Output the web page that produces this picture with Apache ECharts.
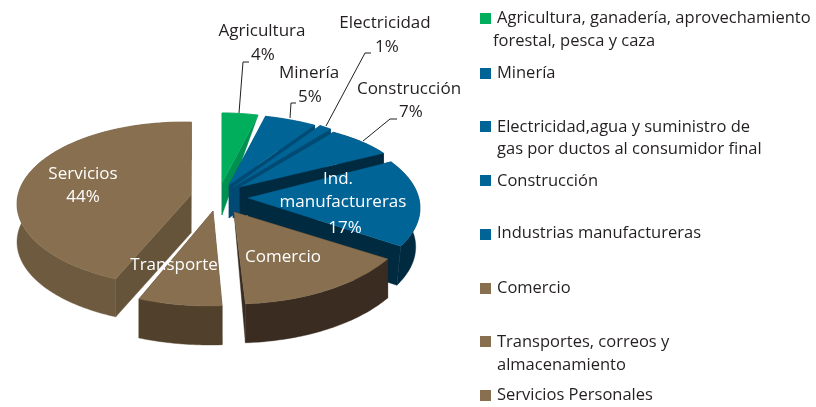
<!DOCTYPE html>
<html>
<head>
<meta charset="utf-8">
<style>html,body{margin:0;padding:0;background:#fff}#main{width:816px;height:407px}</style>
<script src="https://cdn.jsdelivr.net/npm/echarts@6/dist/echarts.min.js"></script>
</head>
<body>
<div id="main"></div>
<script>
// valores (comercio y transporte no traen porcentaje, son estimados)
var categories = ['Agricultura', 'Minería', 'Electricidad', 'Construcción', 'Ind. manufactureras', 'Comercio', 'Transporte', 'Servicios'];
var values = [4, 5, 1, 7, 17, 15, 7, 44];
var legendNames = [
    ['Agricultura, ganadería, aprovechamiento', 'forestal, pesca y caza'],
    ['Minería'],
    ['Electricidad,agua y suministro de', 'gas por ductos al consumidor final'],
    ['Construcción'],
    ['Industrias manufactureras'],
    ['Comercio'],
    ['Transportes, correos y', 'almacenamiento'],
    ['Servicios Personales']
];

var GREEN = '#00ae5b', BLUE = '#006496', BROWN = '#876f4f';

// forma de cada rebanada: elipse propia porque el dibujo original esta deformado a mano
// cx,cy,a,b elipse; ax,ay vertice; turn giro en grados; depth canto; inner caida del vertice; foot ancho del borde inferior
var shapes = [
    {cx: 222, cy: 181, a: 145, b: 68, ax: 222, ay: 183, turn: 0, depth: 0, inner: 32, foot: 1, top: GREEN, rim: '#009150', wall: '#009150'},
    {cx: 223, cy: 186, a: 171, b: 72, ax: 229, ay: 185, turn: 0, depth: 33, inner: 33, foot: 1, top: BLUE, rim: '#004a73', wall: '#004a73'},
    {cx: 213, cy: 210, a: 200, b: 100, ax: 233, ay: 187, turn: 0, depth: 33, inner: 31, foot: 1, top: BLUE, rim: '#004a73', wall: '#004a73'},
    {cx: 231, cy: 184, a: 174, b: 64, ax: 240, ay: 187, turn: 0, depth: 30, inner: 30, foot: 1, top: BLUE, rim: '#002a40', wall: '#002a40'},
    {cx: 248, cy: 208, a: 172, b: 83, ax: 248, ay: 198, turn: -5, depth: 39, inner: 39, foot: 0.975, top: BLUE, rim: '#002a40', wall: '#002a40'},
    {cx: 234, cy: 207, a: 182, b: 97, ax: 234, ay: 212, turn: 0, depth: 39, inner: 0, foot: 1, top: BROWN, rim: '#3a2c20', wall: '#3a2c20'},
    {cx: 210, cy: 206, a: 193, b: 100, ax: 213, ay: 211, turn: 0, depth: 39, inner: 0, foot: 1, top: BROWN, rim: '#50402c', wall: '#50402c'},
    {cx: 184, cy: 204, a: 167, b: 82, ax: 191, ay: 195, turn: 2.5, depth: 38, inner: 38, foot: 1, top: BROWN, rim: '#6e5a3e', wall: '#65533a'}
];
var drawOrder = [0, 1, 2, 3, 4, 7, 6, 5];

var total = values.reduce(function (s, v) { return s + v; }, 0);
var starts = [];
values.reduce(function (s, v, i) { starts[i] = s; return s + v; }, 0);

function rimPoint(sh, deg, down) {
    var t = (deg + sh.turn) * Math.PI / 180;
    var wide = down ? sh.a * sh.foot : sh.a;
    return [sh.cx + wide * Math.sin(t), sh.cy - sh.b * Math.cos(t) + down];
}

function renderSlice(params, api) {
    var idx = api.value(0), sh = shapes[idx];
    var from = api.value(1) / total * 360, to = (api.value(1) + api.value(2)) / total * 360;
    var steps = Math.max(4, Math.ceil(to - from)), arc = [], low = [], i;
    for (i = 0; i <= steps; i++) {
        var deg = from + (to - from) * i / steps;
        arc.push(rimPoint(sh, deg, 0));
        low.unshift(rimPoint(sh, deg, sh.depth));
    }
    var apex = [sh.ax, sh.ay], apexLow = [sh.ax, sh.ay + sh.inner];
    var first = rimPoint(sh, from, 0), firstLow = rimPoint(sh, from, sh.depth);
    var last = rimPoint(sh, to, 0), lastLow = rimPoint(sh, to, sh.depth);
    var children = [];
    function poly(points, color) {
        children.push({type: 'polygon', shape: {points: points}, style: {fill: color, stroke: color, lineWidth: 0.4}, silent: true});
    }
    // paredes radiales y canto, luego la cara superior encima
    poly([last, apex, apexLow, lastLow], sh.wall);
    poly([first, apex, apexLow, firstLow], sh.wall);
    poly(arc.concat(low), sh.rim);
    poly([apex].concat(arc), sh.top);
    return {type: 'group', children: children};
}

var sliceData = drawOrder.map(function (i) {
    return {name: categories[i], value: [i, starts[i], values[i]]};
});

function label(text, x, y, color) {
    return {
        type: 'text', x: x, y: y, z: 10, silent: true,
        style: {text: text, fill: color, font: '400 17px "Open Sans"', textAlign: 'center', textVerticalAlign: 'middle'}
    };
}
function leader(points) {
    return {type: 'polyline', z: 9, silent: true, shape: {points: points}, style: {stroke: '#231f20', lineWidth: 1, fill: null}};
}

var DARK = '#231f20', WHITE = '#ffffff';
var graphics = [
    leader([[239, 113], [243, 62], [249, 62]]),
    leader([[290, 118], [291, 103], [296, 103]]),
    leader([[326, 126], [365, 53], [371, 53]]),
    leader([[363, 141], [390, 119], [397, 119]]),
    label('Agricultura', 262, 31, DARK),
    label(values[0] + '%', 263, 55, DARK),
    label('Electricidad', 385, 23, DARK),
    label(values[2] + '%', 387, 47, DARK),
    label('Minería', 309, 73, DARK),
    label(values[1] + '%', 310, 97, DARK),
    label('Construcción', 409, 89, DARK),
    label(values[3] + '%', 411, 112, DARK),
    label('Servicios', 83, 174, WHITE),
    label(values[7] + '%', 83, 197, WHITE),
    label('Ind.', 338, 179, WHITE),
    label('manufactureras', 343, 202, WHITE),
    label(values[4] + '%', 345, 228, WHITE),
    label('Comercio', 283, 257, WHITE),
    label('Transporte', 174, 265, WHITE)
];

// leyenda: posiciones irregulares como en el original
var legendY = [18, 73, 127, 181, 233, 288, 342, 395];
var squareY = [13, 68, 121, 175, 229, 283, 336, 390];
var legendColors = [GREEN, BLUE, BLUE, BLUE, BLUE, BROWN, BROWN, BROWN];
var legendSecondLine = [[493, 41], null, [497, 149], null, null, null, [497, 365], null];
legendNames.forEach(function (lines, i) {
    graphics.push({type: 'rect', silent: true, shape: {x: 480, y: squareY[i], width: 11, height: 11}, style: {fill: legendColors[i]}});
    graphics.push({
        type: 'text', x: 497, y: legendY[i], silent: true,
        style: {text: lines[0], fill: DARK, font: '400 16.5px "Open Sans"', textVerticalAlign: 'middle'}
    });
    if (lines[1]) {
        graphics.push({
            type: 'text', x: legendSecondLine[i][0], y: legendSecondLine[i][1], silent: true,
            style: {text: lines[1], fill: DARK, font: '400 16.5px "Open Sans"', textVerticalAlign: 'middle'}
        });
    }
});

var chart = echarts.init(document.getElementById('main'), null, {renderer: 'canvas'});
chart.setOption({
    backgroundColor: '#fff',
    animation: false,
    graphic: graphics,
    series: [{
        type: 'custom',
        coordinateSystem: 'none',
        renderItem: renderSlice,
        encode: {tooltip: 2},
        data: sliceData
    }]
});
</script>
</body>
</html>
